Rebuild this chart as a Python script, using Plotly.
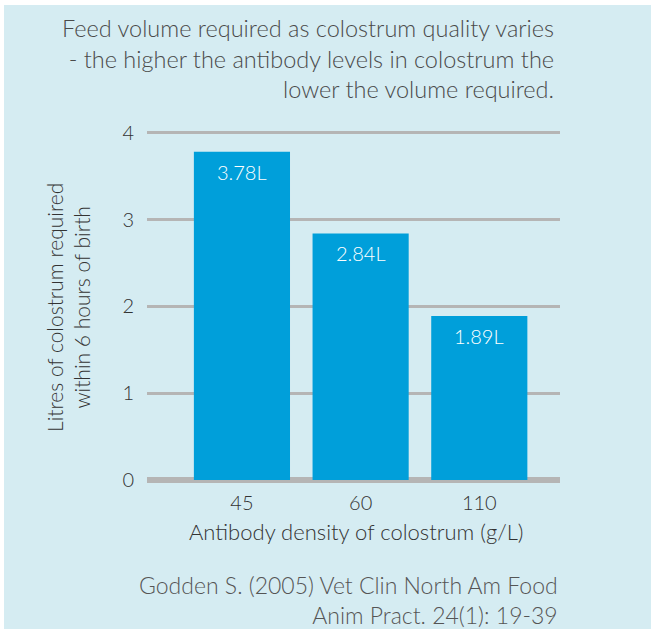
import plotly.graph_objects as go

# Antibody density categories (g/L) and litres of colostrum needed
densities = ["45", "60", "110"]
litres = [3.78, 2.84, 1.89]
y_ticks = [0, 1, 2, 3, 4]

title_lines = [
    "Feed volume required as colostrum quality varies",
    "- the higher the antibody levels in colostrum the",
    "lower the volume required.",
]
source_lines = [
    "Godden S. (2005) Vet Clin North Am Food",
    "Anim Pract. 24(1): 19-39",
]
y_title_lines = ["Litres of colostrum required", "within 6 hours of birth"]
x_title = "Antibody density of colostrum (g/L)"

FONT = "Lato"
WEIGHT = 300
BAR = "#009fda"
PANEL = "#d5ecf2"
GRID = "#b5b5b5"
TEXT = "#333333"

W, H = 651, 629
L, R, T, B = 147, 91, 131, 149
Y_MAX = 4.02
plot_w = W - L - R
plot_h = H - T - B


def px_x(p):
    return (p - L) / plot_w


def px_y(p):
    return (H - B - p) / plot_h


def font(size, color):
    return dict(family=FONT, size=size, color=color, weight=WEIGHT)


fig = go.Figure(
    go.Bar(
        x=densities,
        y=litres,
        marker=dict(color=BAR, line=dict(width=0)),
        width=0.81,
        hoverinfo="skip",
    )
)

annotations = []
for i, v in enumerate(litres):
    annotations.append(dict(
        x=i, y=v, xref="x", yref="y", text=f"{v:.2f}L",
        showarrow=False, yanchor="middle", yshift=-20,
        font=font(20, "white"),
    ))

annotations.append(dict(
    x=px_x(556), y=px_y(59), xref="paper", yref="paper",
    text="<br>".join(title_lines), align="right",
    xanchor="right", yanchor="middle", showarrow=False,
    font=font(23.5, "#4a4a4a"),
))
annotations.append(dict(
    x=px_x(560), y=px_y(600), xref="paper", yref="paper",
    text="<br>".join(source_lines), align="right",
    xanchor="right", yanchor="middle", showarrow=False,
    font=font(23, "#555555"),
))
annotations.append(dict(
    x=px_x(68), y=px_y(308), xref="paper", yref="paper",
    text="<br>".join(y_title_lines), textangle=-90, align="center",
    xanchor="center", yanchor="middle", showarrow=False,
    font=font(21, TEXT),
))
annotations.append(dict(
    x=px_x(356), y=px_y(531), xref="paper", yref="paper",
    text=x_title, xanchor="center", yanchor="middle", showarrow=False,
    font=font(22, TEXT),
))

fig.update_layout(
    width=W, height=H,
    margin=dict(l=L, r=R, t=T, b=B, pad=0),
    paper_bgcolor="white",
    plot_bgcolor="rgba(0,0,0,0)",
    showlegend=False,
    annotations=annotations,
    shapes=[dict(
        type="rect", xref="paper", yref="paper", layer="below",
        x0=px_x(4), x1=px_x(W + 2), y0=px_y(H + 2), y1=px_y(5),
        fillcolor=PANEL, line=dict(width=0),
    )],
    xaxis=dict(
        type="category", range=[-0.8, 2.68],
        showgrid=False, showline=False, zeroline=False,
        ticks="outside", ticklen=5, tickcolor="rgba(0,0,0,0)",
        tickfont=font(20, TEXT),
    ),
    yaxis=dict(
        range=[0, Y_MAX], tickvals=y_ticks,
        showgrid=True, gridcolor=GRID, gridwidth=3,
        zeroline=True, zerolinecolor=GRID, zerolinewidth=6,
        showline=False,
        ticks="outside", ticklen=8, tickcolor="rgba(0,0,0,0)",
        tickfont=font(20, TEXT),
    ),
)

fig.write_html("out.html")
